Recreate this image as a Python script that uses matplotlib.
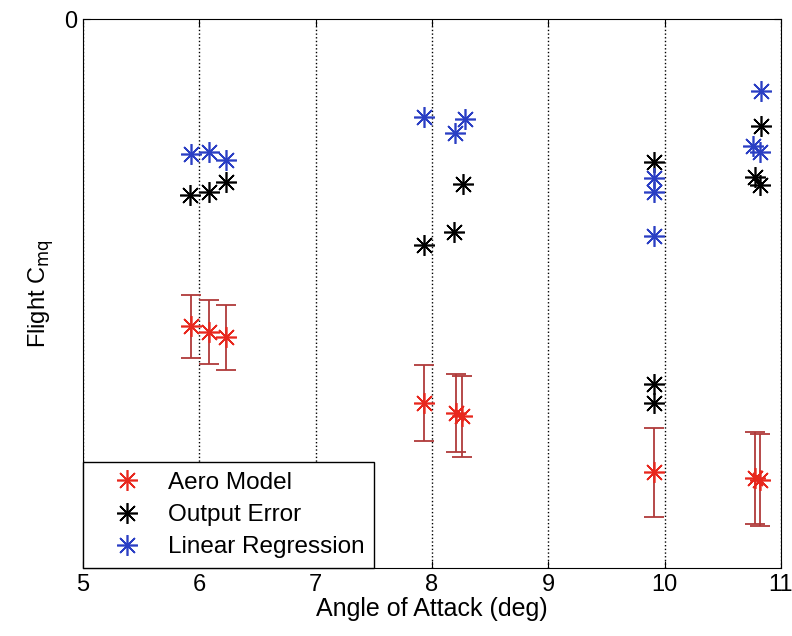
import matplotlib
matplotlib.use("Agg")
import matplotlib.pyplot as plt

plt.rcParams['font.family'] = ['Liberation Sans', 'DejaVu Sans']

# Aero Model (with error bars)
aero_aoa = [5.93, 6.08, 6.23, 7.93, 8.21, 8.26, 9.91, 10.78, 10.82]
aero_cmq = [-28.0, -28.5, -29.0, -35.0, -35.9, -36.2, -41.3, -41.8, -42.0]
aero_err = [2.9, 2.9, 2.95, 3.45, 3.55, 3.65, 4.05, 4.2, 4.2]

# Output Error
oe_aoa = [5.92, 6.08, 6.23, 7.93, 8.19, 8.27, 9.91, 9.91, 9.91, 10.83, 10.78, 10.82]
oe_cmq = [-16.0, -15.8, -14.8, -20.6, -19.4, -15.0, -13.0, -33.2, -35.0, -9.7, -14.4, -15.1]

# Linear Regression
lr_aoa = [5.93, 6.08, 6.23, 7.93, 8.28, 8.20, 9.91, 9.91, 9.91, 10.83, 10.76, 10.82]
lr_cmq = [-12.3, -12.1, -12.8, -8.9, -9.1, -10.4, -14.5, -15.8, -19.8, -6.6, -11.6, -12.1]

star = (8, 2, 0)

fig = plt.figure(figsize=(7.92, 6.36), dpi=100)
ax = fig.add_axes([0.1048, 0.1069, 0.8813, 0.8632])

ax.errorbar(aero_aoa, aero_cmq, yerr=aero_err, fmt='none', ecolor='#b03a3a',
            elinewidth=1.3, capsize=7, capthick=1.3)
ax.plot(aero_aoa, aero_cmq, linestyle='none', marker=star, markersize=15,
        markeredgewidth=1.2, color='#e8281e', label='Aero Model')
ax.plot(oe_aoa, oe_cmq, linestyle='none', marker=star, markersize=15,
        markeredgewidth=1.2, color='black', label='Output Error')
ax.plot(lr_aoa, lr_cmq, linestyle='none', marker=star, markersize=15,
        markeredgewidth=1.2, color='#2b3fc4', label='Linear Regression')

ax.set_xlim(5, 11)
ax.set_ylim(-50, 0)
ax.set_xticks([5, 6, 7, 8, 9, 10, 11])
ax.set_yticks([0])
ax.grid(axis='x', linestyle=':', color='black', linewidth=1)
ax.tick_params(direction='in', top=True, right=True, labelsize=17, length=5, pad=4)
ax.set_xlabel('Angle of Attack (deg)', fontsize=18, labelpad=1)
ax.set_ylabel('Flight C$_{\\mathrm{mq}}$', fontsize=17, labelpad=6)

leg = ax.legend(loc='lower left', fontsize=17.5, fancybox=False, borderaxespad=0,
                handletextpad=0.3, handlelength=2.8, labelspacing=0.42,
                borderpad=0.4, framealpha=1, edgecolor='black')
leg.get_frame().set_linewidth(1)

fig.savefig('out.png', dpi=100)
